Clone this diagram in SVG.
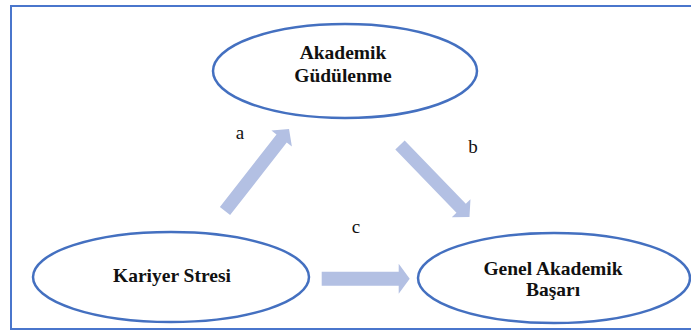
<svg xmlns="http://www.w3.org/2000/svg" width="691" height="331" viewBox="0 0 691 331">
<style>
.node{fill:#fff;stroke:#4470C0;stroke-width:2.5}
.lbl{font-family:'Liberation Serif','Times New Roman',Times,'DejaVu Serif',serif;font-weight:bold;font-size:19.5px;fill:#111;text-anchor:middle}
.edge{font-family:'Liberation Serif','Times New Roman',Times,'DejaVu Serif',serif;font-size:19px;fill:#111;text-anchor:middle}
.arr{fill:#B3C0E3}
</style>
<rect width="691" height="331" fill="#fff"/>
<rect x="11" y="6" width="690" height="323" fill="none" stroke="#4A76CC" stroke-width="2"/>
<g id="n-motivation">
<ellipse class="node" cx="345" cy="71" rx="132" ry="47"/>
<text class="lbl" font-family="Liberation Serif, serif" x="343" y="59">Akademik</text>
<text class="lbl" font-family="Liberation Serif, serif" x="343" y="82">Güdülenme</text>
</g>
<g id="n-stress">
<ellipse class="node" cx="171" cy="277" rx="138" ry="45"/>
<text class="lbl" font-family="Liberation Serif, serif" x="172" y="282">Kariyer Stresi</text>
</g>
<g id="n-success">
<ellipse class="node" cx="554" cy="278" rx="136" ry="45"/>
<text class="lbl" font-family="Liberation Serif, serif" x="553" y="275">Genel Akademik</text>
<text class="lbl" font-family="Liberation Serif, serif" x="553" y="296">Başarı</text>
</g>
<g id="connectors">
<polygon class="arr" transform="translate(225,211) rotate(-52)" points="0,-6.5 92,-6.5 92,-13 104,0 92,13 92,6.5 0,6.5"/>
<polygon class="arr" transform="translate(400,145) rotate(46)" points="0,-6.5 88,-6.5 88,-13 100,0 88,13 88,6.5 0,6.5"/>
<polygon class="arr" transform="translate(321.7,278.7)" points="0,-7 77,-7 77,-15 88,0 77,15 77,7 0,7"/>
<text class="edge" font-family="Liberation Serif, serif" x="240" y="139">a</text>
<text class="edge" font-family="Liberation Serif, serif" x="473" y="153">b</text>
<text class="edge" font-family="Liberation Serif, serif" x="356" y="233">c</text>
</g>
</svg>
